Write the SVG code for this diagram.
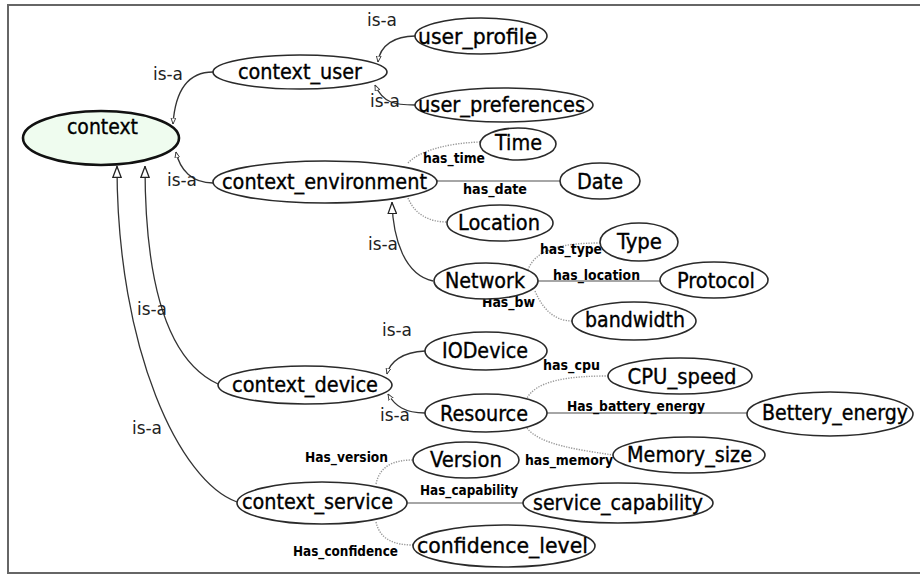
<svg xmlns="http://www.w3.org/2000/svg" width="920" height="575" viewBox="0 0 920 575">
<defs>
<style>
.node ellipse{fill:#ffffff;stroke:#2a2a2a;stroke-width:1.6}
.node text{font-family:"DejaVu Sans Condensed","DejaVu Sans",sans-serif;font-stretch:condensed;font-size:22px;fill:#000;stroke:#000;stroke-width:0.35;text-anchor:middle}
.isa{fill:none;stroke:#333;stroke-width:1.3}
.prop{fill:none;stroke:#888;stroke-width:1.3}
.dot{fill:none;stroke:#999;stroke-width:1.4;stroke-dasharray:1.3 1.3}
.lab{font-family:"DejaVu Sans Condensed","DejaVu Sans",sans-serif;font-stretch:condensed;font-size:14px;font-weight:bold;fill:#000;text-anchor:middle}
.isal{font-family:"DejaVu Sans Condensed","DejaVu Sans",sans-serif;font-stretch:condensed;font-size:18px;fill:#222}
</style>
<marker id="sm" viewBox="0 0 10 10" refX="10" refY="5" markerWidth="6" markerHeight="6" markerUnits="userSpaceOnUse" orient="auto">
<path d="M0,1 L10,5 L0,9 Z" fill="#fff" stroke="#333" stroke-width="1.5"/>
</marker>
<marker id="big" viewBox="0 0 12 10" refX="12" refY="5" markerWidth="12" markerHeight="10" markerUnits="userSpaceOnUse" orient="auto">
<path d="M0.5,0.8 L11.5,5 L0.5,9.2 Z" fill="#fff" stroke="#222" stroke-width="1.3"/>
</marker>
</defs>
<rect x="0" y="0" width="920" height="575" fill="#fff"/>
<rect x="8" y="5" width="930" height="568" fill="none" stroke="#666" stroke-width="2"/>

<g id="connectors">
<path class="isa" d="M213,72 C185,72 175,95 173,124" marker-end="url(#sm)"/>
<path class="isa" d="M415,36 C395,36 380,45 378,62" marker-end="url(#sm)"/>
<path class="isa" d="M415,105 C395,105 383,103 375,85" marker-end="url(#sm)"/>
<path class="isa" d="M213,183 C192,183 180,170 176,152" marker-end="url(#sm)"/>
<path class="isa" d="M433,281 C405,275 393,240 392,202" marker-end="url(#big)"/>
<path class="isa" d="M218,384 C170,362 145,290 145,166" marker-end="url(#big)"/>
<path class="isa" d="M237,502 C180,482 117,350 117,166" marker-end="url(#big)"/>
<path class="isa" d="M425,351 C402,352 390,362 387,374" marker-end="url(#sm)"/>
<path class="isa" d="M425,413 C405,413 395,406 388,394" marker-end="url(#sm)"/>

<path class="dot" d="M408,163 C420,150 450,143 480,142"/>
<path class="prop" d="M437,181 L560,181"/>
<path class="dot" d="M408,198 C415,215 430,222 447,222"/>
<path class="dot" d="M528,270 C535,250 560,243 600,243"/>
<path class="prop" d="M538,281 L660,281"/>
<path class="dot" d="M535,291 C545,315 560,321 572,321"/>
<path class="dot" d="M526,400 C535,380 570,376 608,376"/>
<path class="prop" d="M547,413 L747,413"/>
<path class="dot" d="M527,428 C540,445 580,450 613,455"/>
<path class="dot" d="M376,484 C380,465 395,460 413,460"/>
<path class="prop" d="M407,503 L523,503"/>
<path class="dot" d="M376,522 C380,540 395,545 413,545"/>

<text class="isal" x="153" y="80" textLength="30" lengthAdjust="spacingAndGlyphs">is-a</text>
<text class="isal" x="367" y="26" textLength="30" lengthAdjust="spacingAndGlyphs">is-a</text>
<text class="isal" x="370" y="107" textLength="30" lengthAdjust="spacingAndGlyphs">is-a</text>
<text class="isal" x="167" y="186" textLength="30" lengthAdjust="spacingAndGlyphs">is-a</text>
<text class="isal" x="368" y="250" textLength="30" lengthAdjust="spacingAndGlyphs">is-a</text>
<text class="isal" x="137" y="315" textLength="30" lengthAdjust="spacingAndGlyphs">is-a</text>
<text class="isal" x="132" y="434" textLength="30" lengthAdjust="spacingAndGlyphs">is-a</text>
<text class="isal" x="382" y="336" textLength="30" lengthAdjust="spacingAndGlyphs">is-a</text>
<text class="isal" x="380" y="421" textLength="30" lengthAdjust="spacingAndGlyphs">is-a</text>

<text class="lab" x="454" y="163" textLength="62" lengthAdjust="spacingAndGlyphs">has_time</text>
<text class="lab" x="495" y="194" textLength="64" lengthAdjust="spacingAndGlyphs">has_date</text>
<text class="lab" x="571" y="254" textLength="62" lengthAdjust="spacingAndGlyphs">has_type</text>
<text class="lab" x="596.5" y="280" textLength="87" lengthAdjust="spacingAndGlyphs">has_location</text>
<text class="lab" x="508.5" y="307" textLength="53" lengthAdjust="spacingAndGlyphs">Has_bw</text>
<text class="lab" x="571.5" y="370" textLength="57" lengthAdjust="spacingAndGlyphs">has_cpu</text>
<text class="lab" x="636" y="411" textLength="138" lengthAdjust="spacingAndGlyphs">Has_battery_energy</text>
<text class="lab" x="569" y="465" textLength="88" lengthAdjust="spacingAndGlyphs">has_memory</text>
<text class="lab" x="346.5" y="462" textLength="83" lengthAdjust="spacingAndGlyphs">Has_version</text>
<text class="lab" x="469" y="495" textLength="98" lengthAdjust="spacingAndGlyphs">Has_capability</text>
<text class="lab" x="345.5" y="556" textLength="105" lengthAdjust="spacingAndGlyphs">Has_confidence</text>
</g>

<g id="context" class="node"><ellipse cx="101" cy="138" rx="78" ry="27" style="fill:#effcef;stroke:#111;stroke-width:2.6"/><text x="102.5" y="134" textLength="71" lengthAdjust="spacingAndGlyphs">context</text></g>
<g id="context_user" class="node"><ellipse cx="300" cy="72" rx="87" ry="17"/><text x="300" y="79" textLength="124" lengthAdjust="spacingAndGlyphs">context_user</text></g>
<g id="user_profile" class="node"><ellipse cx="481" cy="36" rx="66" ry="18"/><text x="477.5" y="44" textLength="119" lengthAdjust="spacingAndGlyphs">user_profile</text></g>
<g id="user_preferences" class="node"><ellipse cx="504" cy="105" rx="89" ry="17"/><text x="501.5" y="112" textLength="167" lengthAdjust="spacingAndGlyphs">user_preferences</text></g>
<g id="Time" class="node"><ellipse cx="518" cy="144" rx="38" ry="16"/><text x="518.5" y="150" textLength="47" lengthAdjust="spacingAndGlyphs">Time</text></g>
<g id="Date" class="node"><ellipse cx="600" cy="181" rx="40" ry="18"/><text x="600" y="189" textLength="46" lengthAdjust="spacingAndGlyphs">Date</text></g>
<g id="context_environment" class="node"><ellipse cx="325" cy="182" rx="112" ry="21"/><text x="324.5" y="189" textLength="205" lengthAdjust="spacingAndGlyphs">context_environment</text></g>
<g id="Location" class="node"><ellipse cx="500" cy="223" rx="53" ry="18"/><text x="499" y="230" textLength="82" lengthAdjust="spacingAndGlyphs">Location</text></g>
<g id="Type" class="node"><ellipse cx="639" cy="242" rx="39" ry="19"/><text x="639.5" y="249" textLength="45" lengthAdjust="spacingAndGlyphs">Type</text></g>
<g id="Network" class="node"><ellipse cx="486" cy="281" rx="52" ry="18"/><text x="485" y="288" textLength="80" lengthAdjust="spacingAndGlyphs">Network</text></g>
<g id="Protocol" class="node"><ellipse cx="714" cy="280" rx="54" ry="18"/><text x="716" y="288" textLength="78" lengthAdjust="spacingAndGlyphs">Protocol</text></g>
<g id="bandwidth" class="node"><ellipse cx="634" cy="321" rx="62" ry="19"/><text x="635" y="327" textLength="100" lengthAdjust="spacingAndGlyphs">bandwidth</text></g>
<g id="IODevice" class="node"><ellipse cx="486" cy="351" rx="61" ry="19"/><text x="485" y="358" textLength="86" lengthAdjust="spacingAndGlyphs">IODevice</text></g>
<g id="CPU_speed" class="node"><ellipse cx="680" cy="376" rx="72" ry="18"/><text x="682" y="384" textLength="109" lengthAdjust="spacingAndGlyphs">CPU_speed</text></g>
<g id="context_device" class="node"><ellipse cx="305" cy="385" rx="87" ry="19"/><text x="305" y="392" textLength="146" lengthAdjust="spacingAndGlyphs">context_device</text></g>
<g id="Resource" class="node"><ellipse cx="486" cy="413" rx="61" ry="19"/><text x="484" y="421" textLength="88" lengthAdjust="spacingAndGlyphs">Resource</text></g>
<g id="Bettery_energy" class="node"><ellipse cx="830" cy="414" rx="83" ry="22"/><text x="835" y="420" textLength="146" lengthAdjust="spacingAndGlyphs">Bettery_energy</text></g>
<g id="Memory_size" class="node"><ellipse cx="689" cy="455" rx="76" ry="18"/><text x="689.5" y="462" textLength="125" lengthAdjust="spacingAndGlyphs">Memory_size</text></g>
<g id="Version" class="node"><ellipse cx="466" cy="460" rx="53" ry="18"/><text x="466" y="467" textLength="72" lengthAdjust="spacingAndGlyphs">Version</text></g>
<g id="service_capability" class="node"><ellipse cx="618" cy="503" rx="95" ry="20"/><text x="618" y="510" textLength="170" lengthAdjust="spacingAndGlyphs">service_capability</text></g>
<g id="context_service" class="node"><ellipse cx="322" cy="503" rx="85" ry="21"/><text x="317.5" y="509" textLength="151" lengthAdjust="spacingAndGlyphs">context_service</text></g>
<g id="confidence_level" class="node"><ellipse cx="504" cy="546" rx="91" ry="21"/><text x="502.5" y="553" textLength="171" lengthAdjust="spacingAndGlyphs">confidence_level</text></g>
</svg>
